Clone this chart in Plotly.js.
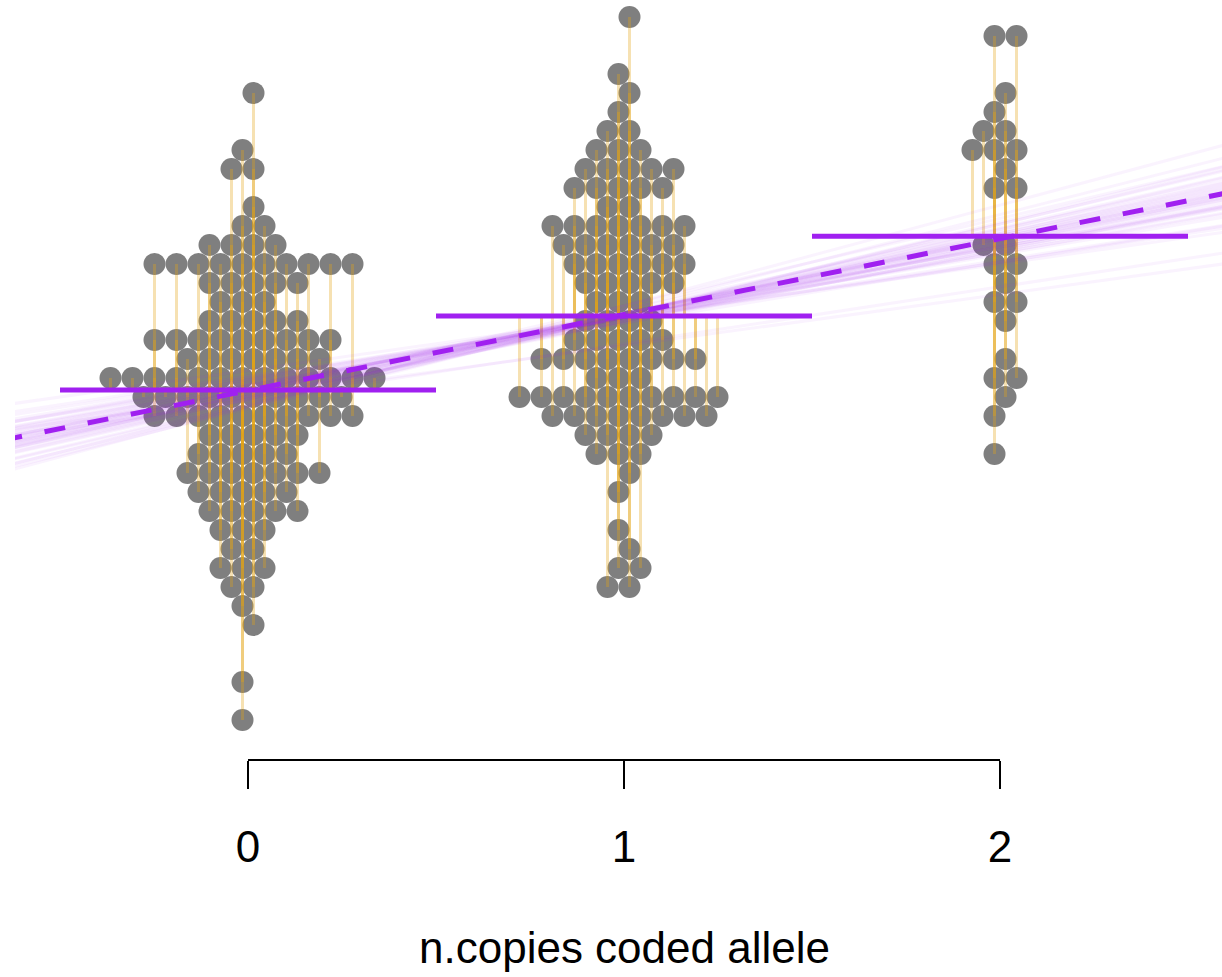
<!DOCTYPE html>
<html>
<head>
<meta charset="utf-8">
<script src="https://cdn.plot.ly/plotly-3.0.1.min.js"></script>
<style>html,body{margin:0;padding:0;background:#fff}#chart{width:1222px;height:977px}</style>
</head>
<body>
<div id="chart"></div>
<script>
// ---- data ----
const genotypes = [0, 1, 2];
const tickLabels = ['0', '1', '2'];
const axisTitle = 'n.copies coded allele';
// binned phenotype levels (arbitrary units)
const levels = [0,1,2,3,4,5,6,7,8,9,10,11,12,13,14,15,16,17,18,19,20,21,22,23,24,25,26,27,28,29,30,31,32,33,34,35,36,37];
// number of individuals at each level, per genotype
const counts0 = [1,0,1,0,0,1,1,2,3,2, 3,5,5,7,5,5,10,10,13,7, 9,5,3,5,10,4,2,1,0,2, 1,0,0,1,0,0,0,0];
const counts1 = [0,0,0,0,0,0,0,2,2,1, 1,0,1,1,3,4,8,10,3,8, 5,4,3,5,6,6,7,2,5,5, 3,2,1,1,1,0,0,1];
const counts2 = [0,0,0,0,0,0,0,0,0,0, 0,0,0,0,1,0,1,1,2,1, 0,1,2,1,2,2,0,0,2,1, 3,2,1,1,0,0,2,0];
// bootstrap regression lines (intercept, slope)
const fanIntercept = [18.0,17.8,17.6,17.5,17.4,17.3,17.2,17.4,17.1,17.0,16.9,16.8,16.6,16.5,17.9,17.6,17.5,17.3,16.9,16.7,18.1,17.7,17.2,16.4,17.6,17.0,17.1,17.3,16.9,17.45,18.4,17.0,16.8,16.5,17.7,17.2,16.6,17.9,17.35,17.05];
const fanSlope     = [3.1,3.4,3.6,3.7,3.8,3.9,4.0,4.0,4.1,4.2,4.3,4.4,4.6,4.8,3.3,3.5,3.9,4.1,4.5,4.7,3.0,3.6,4.2,4.9,3.8,4.0,4.3,3.7,4.1,3.95,2.8,2.7,3.0,5.3,3.2,4.6,5.0,3.5,4.25,3.85];

// ---- styles / geometry ----
const W = 1222, H = 977;
const margin = {l: 15, r: 0, t: 0, b: 217};
const xRange = [-0.6197, 2.5904];
const yRange = [-2.105, 37.895];
const dotD = 22;
const purple = '#A020F0';
const fontFam = 'Liberation Sans, Arial, sans-serif';
const pxPerUnit = (W - margin.l - margin.r) / (xRange[1] - xRange[0]);
const half = (dotD / 4) / pxPerUnit;

const groups = [counts0, counts1, counts2];
const dotX = [], dotY = [];
const layers = [];
const means = [];
let sx = 0, sy = 0, sxx = 0, sxy = 0, N = 0;

groups.forEach((counts, gi) => {
  const g = genotypes[gi];
  let tot = 0, sum = 0;
  levels.forEach((L, li) => { tot += counts[li]; sum += L * counts[li]; });
  const mean = sum / tot;
  means.push(mean);
  const pts = [];
  levels.forEach((L, li) => {
    const n = counts[li];
    if (!n) return;
    const p = (L % 2 === 0) ? 3 : 1;
    const ideal = -2 * (n - 1);
    const start = ((((ideal - 1) % 4) + 4) % 4) === p ? ideal - 1 : ideal + 1;
    for (let k = 0; k < n; k++) pts.push({c: start + 4 * k, L: L});
    N += n; sx += g * n; sy += L * n; sxx += g * g * n; sxy += g * L * n;
  });
  pts.forEach(pt => { dotX.push(g + pt.c * half); dotY.push(pt.L); });
  // residual segments, layered so overlapping ones stack their transparency
  const bins = {};
  pts.forEach(pt => {
    const key = pt.c + '_' + (pt.L >= mean ? 'u' : 'd');
    (bins[key] = bins[key] || []).push(pt);
  });
  Object.values(bins).forEach(arr => {
    arr.sort((a, b) => Math.abs(a.L - mean) - Math.abs(b.L - mean));
    arr.forEach((pt, k) => {
      if (!layers[k]) layers[k] = {x: [], y: []};
      const xx = g + pt.c * half;
      layers[k].x.push(xx, xx, null);
      layers[k].y.push(pt.L, mean, null);
    });
  });
});

const slope = (sxy - sx * sy / N) / (sxx - sx * sx / N);
const intercept = sy / N - slope * sx / N;

const traces = [];
traces.push({
  type: 'scatter', mode: 'markers', x: dotX, y: dotY, hoverinfo: 'skip',
  marker: {size: dotD, color: '#7f7f7f', line: {width: 0}}, cliponaxis: false
});
layers.forEach(l => traces.push({
  type: 'scatter', mode: 'lines', x: l.x, y: l.y, hoverinfo: 'skip',
  line: {color: 'rgba(228,163,20,0.33)', width: 3}, connectgaps: false
}));
fanIntercept.forEach((b0, i) => traces.push({
  type: 'scatter', mode: 'lines', x: [-1, 3], y: [b0 - fanSlope[i], b0 + 3 * fanSlope[i]],
  hoverinfo: 'skip', line: {color: 'rgba(160,32,240,0.055)', width: 3}
}));
genotypes.forEach((g, i) => traces.push({
  type: 'scatter', mode: 'lines', x: [g - 0.5, g + 0.5], y: [means[i], means[i]],
  hoverinfo: 'skip', line: {color: purple, width: 5}
}));
traces.push({
  type: 'scatter', mode: 'lines', x: [-1, 3], y: [intercept - slope, intercept + 3 * slope],
  hoverinfo: 'skip', line: {color: purple, width: 5, dash: '21px,23px'}
});

const layout = {
  width: W, height: H, margin: margin, showlegend: false,
  paper_bgcolor: '#fff', plot_bgcolor: '#fff',
  font: {family: fontFam, color: '#000'},
  xaxis: {
    range: xRange, showgrid: false, zeroline: false, showline: false,
    tickvals: genotypes, ticktext: tickLabels, ticks: 'outside', ticklen: 28,
    tickwidth: 2, tickcolor: '#000', ticklabelstandoff: 20,
    tickfont: {size: 44, color: '#000', family: fontFam},
    fixedrange: true
  },
  yaxis: {range: yRange, visible: false, fixedrange: true},
  shapes: [{
    type: 'line', xref: 'x', yref: 'paper', x0: genotypes[0], x1: genotypes[genotypes.length - 1],
    y0: 0, y1: 0, line: {color: '#000', width: 2}
  }],
  annotations: [{
    text: axisTitle, xref: 'x', yref: 'paper', x: 1, y: (760 - 947) / 760,
    xanchor: 'center', yanchor: 'middle', showarrow: false,
    font: {size: 44, color: '#000', family: fontFam}
  }]
};

Plotly.newPlot('chart', traces, layout, {staticPlot: true, displayModeBar: false});
</script>
</body>
</html>
